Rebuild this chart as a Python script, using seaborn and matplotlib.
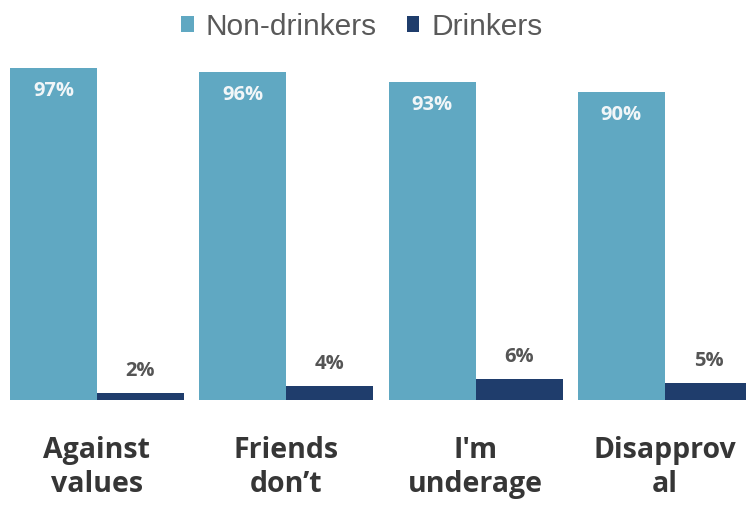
import matplotlib
matplotlib.use("Agg")
import matplotlib.pyplot as plt
import seaborn as sns
import pandas as pd

categories = ["Against\nvalues", "Friends\ndon\u2019t", "I'm\nunderage", "Disapprov\nal"]
groups = ["Non-drinkers", "Drinkers"]
non_drinkers = [97, 96, 93, 90]
drinkers = [2, 4, 6, 5]

colors = {"Non-drinkers": "#60a8c2", "Drinkers": "#1f3d6c"}

df = pd.DataFrame({
    "reason": categories * 2,
    "group": [groups[0]] * len(categories) + [groups[1]] * len(categories),
    "pct": non_drinkers + drinkers,
})

sns.set_style("white")
plt.rcParams["font.family"] = ["Open Sans", "DejaVu Sans"]

fig = plt.figure(figsize=(7.46, 5.05), dpi=100)
ax = fig.add_axes([0.0, 0.208, 1.0, 0.677])

sns.barplot(data=df, x="reason", y="pct", hue="group", hue_order=groups,
            palette=colors, width=0.92, gap=0, saturation=1, ax=ax,
            errorbar=None, linewidth=0)

ax.set_ylim(0, 100)
ax.set_xlim(-0.512, 3.428)
ax.set_xlabel("")
ax.set_ylabel("")
ax.set_yticks([])
for s in ax.spines.values():
    s.set_visible(False)

ax.tick_params(axis="x", length=0, pad=26)
for lbl in ax.get_xticklabels():
    lbl.set_fontsize(20.5)
    lbl.set_fontweight("bold")
    lbl.set_color("#363636")
    lbl.set_linespacing(1.22)

# value labels
for cont, grp in zip(ax.containers, groups):
    for bar in cont:
        h = bar.get_height()
        x = bar.get_x() + bar.get_width() / 2
        if grp == "Non-drinkers":
            ax.annotate(f"{h:.0f}%", (x, h), xytext=(0, -16.5), textcoords="offset points",
                        ha="center", va="center", fontsize=14.5, fontweight="bold",
                        color="#f2f6f8")
        else:
            ax.annotate(f"{h:.0f}%", (x, h), xytext=(0, 16), textcoords="offset points",
                        ha="center", va="center", fontsize=14.5, fontweight="bold",
                        color="#555555")

sns.move_legend(ax, "upper center", bbox_to_anchor=(0.485, 1.01), bbox_transform=fig.transFigure,
                ncol=2, frameon=False, title=None, fontsize=21.5,
                handlelength=0.42, handleheight=0.42, handletextpad=0.4, columnspacing=1.0,
                borderaxespad=0.2)
leg = ax.get_legend()
for t in leg.get_texts():
    t.set_color("#595959")
    t.set_family(["Liberation Sans", "DejaVu Sans"])

fig.savefig("out.png", dpi=100)
